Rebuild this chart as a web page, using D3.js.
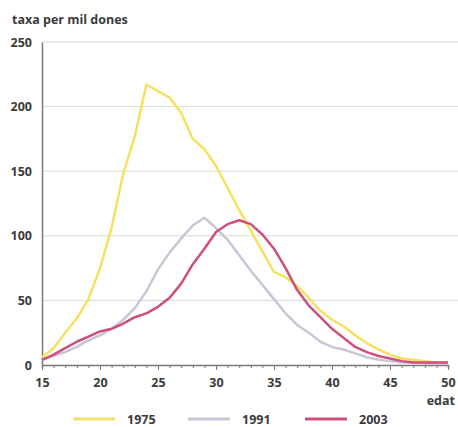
<!DOCTYPE html>
<html><head><meta charset="utf-8">
<script src="https://cdn.jsdelivr.net/npm/d3@7"></script>
<style>
body{margin:0;background:#fff;}
text{font-family:"Open Sans",sans-serif;font-weight:700;fill:#3b3b3b;}
</style></head><body>
<svg id="c" width="458" height="427"></svg>
<script>
const ages = d3.range(15, 51);
const s1975 = [6,13,25,36,51,75,106,148,177,217,212,207,195,175,167,154,137,120,104,88,72,68,61,52,42,35,30,23,17,12,8,5,4,3,2,2];
const s1991 = [4,7,10,14,19,23,28,35,44,57,74,87,98,108,114,106,97,85,73,62,51,40,31,25,18,14,12,9,6,4,3,2,2,1,1,1];
const s2003 = [4,8,13,18,22,26,28,32,37,40,45,52,63,78,90,103,109,112,109,101,90,75,58,46,37,28,21,14,10,7,5,3,2,2,2,2];
const years = ["1975","1991","2003"];
const colors = ["#f6e160","#cac6d8","#cf4f7c"];
const yTicks = [0,50,100,150,200,250];
const xTicks = [15,20,25,30,35,40,45,50];

const svg = d3.select("#c");
const x = d3.scaleLinear().domain([15,50]).range([42,448]);
const y = d3.scaleLinear().domain([0,250]).range([365,42]);

// gridlines
svg.append("g").selectAll("line").data(yTicks.slice(1)).join("line")
  .attr("x1",42).attr("x2",458).attr("y1",d=>y(d)).attr("y2",d=>y(d))
  .attr("stroke","#d9dad6").attr("stroke-width",1);

// y axis
const ya = svg.append("g").attr("transform","translate(42,0)")
  .call(d3.axisLeft(y).tickValues(yTicks).tickSize(0).tickPadding(10));
ya.select(".domain").attr("stroke","#7a7a7a").attr("stroke-width",1.5);
ya.selectAll("text").style("font-size","12.5px").attr("x",-10);

// x axis
const xa = svg.append("g").attr("transform","translate(0,365)")
  .call(d3.axisBottom(x).tickValues(ages).tickSize(3).tickFormat(d=>xTicks.includes(d)?d:""));
xa.select(".domain").attr("stroke","#7a7a7a").attr("stroke-width",1.5);
xa.selectAll(".tick line").attr("stroke","#7a7a7a");
xa.selectAll(".tick").filter(d=>xTicks.includes(d)).select("line").attr("y2",5);
xa.selectAll("text").style("font-size","12.5px").attr("dy","1.25em");

// lines
const line = d3.line().x((d,i)=>x(ages[i])).y(d=>y(d));
[s1975,s1991,s2003].forEach((s,i)=>{
  svg.append("path").datum(s).attr("d",line).attr("fill","none")
    .attr("stroke",colors[i]).attr("stroke-width",2.5).attr("stroke-linejoin","round");
});

// titles
svg.append("text").attr("x",12).attr("y",24).style("font-size","12.5px").text("taxa per mil dones");
svg.append("text").attr("x",455).attr("y",405).attr("text-anchor","end").style("font-size","12.5px").text("edat");

// legend
const lx = [73,188,305];
const lg = svg.append("g");
years.forEach((yr,i)=>{
  lg.append("line").attr("x1",lx[i]).attr("x2",lx[i]+42).attr("y1",419).attr("y2",419)
    .attr("stroke",colors[i]).attr("stroke-width",3);
  lg.append("text").attr("x",lx[i]+54).attr("y",424).style("font-size","12.5px").text(yr);
});
</script>
</body></html>
